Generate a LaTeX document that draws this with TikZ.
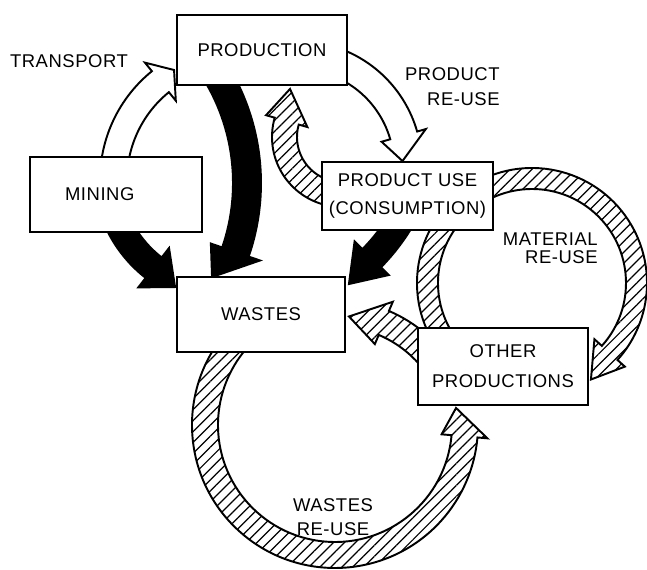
\documentclass[tikz,border=0pt]{standalone}
\usepackage{fontspec}
\setmainfont{Liberation Sans}[LetterSpace=3]
\usetikzlibrary{calc, backgrounds, patterns.meta}

% fat curved arrow: style, centre, start, end, tip, inner r, outer r, barb
\newcommand\fatarrow[8]{%
  \draw[#1] ($(#2)+(#3:#7)$) arc[start angle=#3, end angle=#4, radius=#7]
    -- ($(#2)+(#4:{#7+#8})$) -- #5 -- ($(#2)+(#4:{#6-#8})$)
    -- ($(#2)+(#4:#6)$) arc[start angle=#4, end angle=#3, radius=#6] -- cycle;}

\begin{document}
\begin{tikzpicture}[
    x=0.02cm, y=-0.02cm,
    every node/.style={font=\fontsize{10.5}{14}\selectfont},
    box/.style={rectangle, draw, line width=1.1pt, fill=white, align=center, minimum width=3.4cm, minimum height=1.5cm},
    flowtext/.style={align=center, inner sep=0pt},
    whitearrow/.style={draw, line width=1.1pt, fill=white},
    blackarrow/.style={draw, line width=1.1pt, fill=black},
    hatcharrow/.style={draw, line width=1.1pt, preaction={fill=white}, pattern={Lines[angle=45, distance=4.4pt, line width=0.7pt]}}
]
\useasboundingbox (0,0) rectangle (647,570);

% ============ BOXES ============
\node[box, minimum height=1.4cm] (prodn) at (262,50) {PRODUCTION};
\node[box, minimum width=3.44cm] (mining) at (116,194.5) {MINING\hspace*{0.65cm}};
\node[box, minimum width=3.42cm, minimum height=1.36cm, font=\fontsize{10.5}{15.5}\selectfont] (pu) at (407.5,196) {PRODUCT USE\\(CONSUMPTION)};
\node[box, minimum width=3.36cm] (wastes) at (261,314.5) {WASTES};
\node[box, minimum height=1.54cm, font=\fontsize{10.5}{17}\selectfont] (op) at (503,366.5) {OTHER\\PRODUCTIONS};

% ============ LABELS ============
\node[flowtext] (transport) at (69,61) {TRANSPORT};
\node[flowtext, anchor=east, align=right] (prodreuse) at (500,86.5) {PRODUCT\\RE-USE};
\node[flowtext, anchor=east, align=right, font=\fontsize{10.5}{10.5}\selectfont] (matreuse) at (598,248) {MATERIAL\\RE-USE};
\node[flowtext, font=\fontsize{10.5}{13.6}\selectfont] (wastereuse) at (333,517) {WASTES\\RE-USE};

% ============ ARROW CENTRES ============
\coordinate (trc) at (240,180);
\coordinate (prc) at (297,166);
\coordinate (pwc) at (35,183);
\coordinate (mwc) at (230,170);
\coordinate (uwc) at (228,117);
\coordinate (upc) at (342,137);
\coordinate (matc) at (532,283);
\coordinate (wstc) at (335,425);
\coordinate (wstc2) at (335,438);

\begin{scope}[on background layer]
% flows into wastes
\fatarrow{blackarrow}{pwc}{-35}{19}{($(wastes.north west)+(36,1)$)}{198}{226}{12}
\fatarrow{blackarrow}{mwc}{162}{128}{($(wastes.north west)+(-1,11)$)}{111}{137}{12}
\fatarrow{blackarrow}{uwc}{29}{44.5}{($(wastes.north east)+(3,8)$)}{188.5}{214.5}{11}

% transport and product re-use
\fatarrow{whitearrow}{trc}{175}{231}{($(prodn.west)+(-2,20)$)}{113}{140}{11}
\fatarrow{whitearrow}{prc}{-75}{-16}{($(pu.north)+(-5,0)$)}{97}{125}{9}

% re-use loops
\fatarrow{hatcharrow}{upc}{80}{196}{($(prodn.south)+(28,3)$)}{45}{70}{9}
\fatarrow{hatcharrow}{matc}{150}{402}{($(op.east)+(2,13)$)}{94}{115}{10}
\fatarrow{hatcharrow}{wstc}{222}{5}{($(op.south west)+(39,2)$)}{117}{143}{10}
\fatarrow{hatcharrow}{wstc2}{-30}{-67}{($(wastes.east)+(3,2)$)}{112}{138}{10}
\end{scope}

\end{tikzpicture}
\end{document}
